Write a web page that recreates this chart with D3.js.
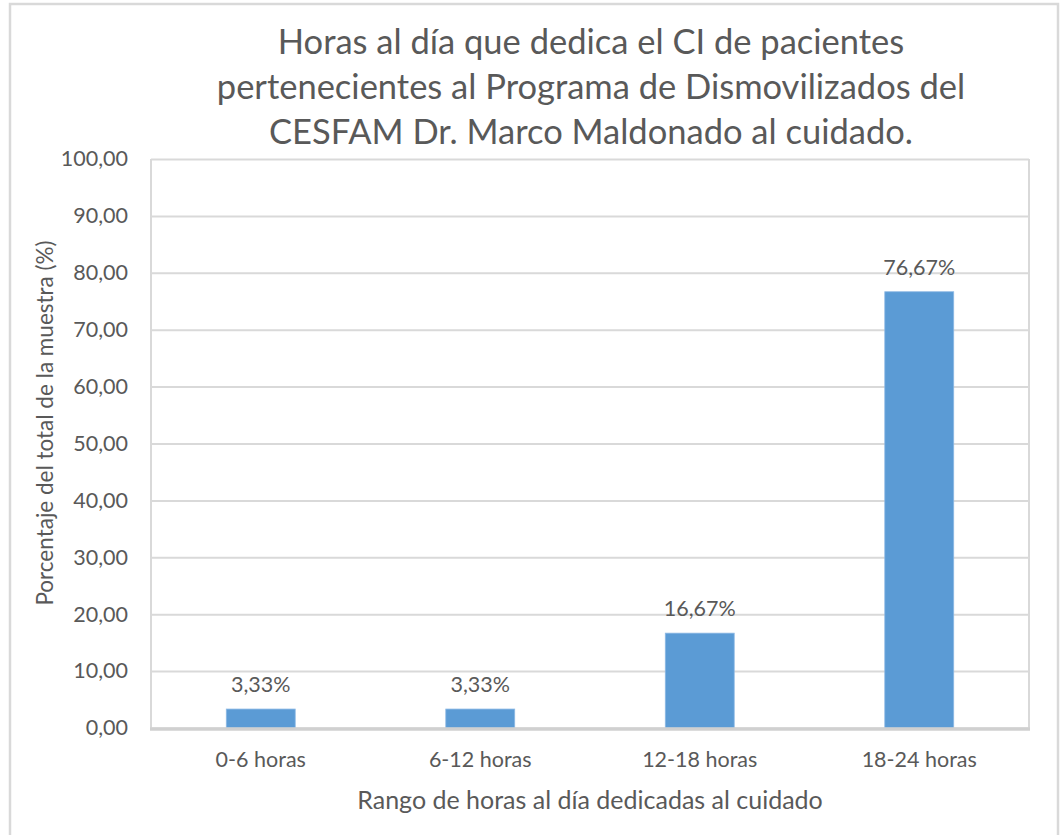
<!DOCTYPE html>
<html>
<head>
<meta charset="utf-8">
<script src="https://cdn.jsdelivr.net/npm/d3@7"></script>
<style>
  html, body { margin: 0; padding: 0; background: #ffffff; }
  svg { display: block; font-family: Lato, "Liberation Sans", sans-serif; }
</style>
</head>
<body>
<svg id="chart" width="1061" height="835"></svg>
<script>
// ---- data ----
const categories = ["0-6 horas", "6-12 horas", "12-18 horas", "18-24 horas"];
const values = [3.33, 3.33, 16.67, 76.67];
const yTicks = [0, 10, 20, 30, 40, 50, 60, 70, 80, 90, 100];
const titleLines = [
  "Horas al día que dedica el CI de pacientes",
  "pertenecientes al Programa de Dismovilizados del",
  "CESFAM Dr. Marco Maldonado al cuidado."
];
const xTitle = "Rango de horas al día dedicadas al cuidado";
const yTitle = "Porcentaje del total de la muestra (%)";

// ---- layout ----
const W = 1061, H = 835;
const plot = { left: 151, right: 1029, top: 159, bottom: 728 };
const textColor = "#595959";
const gridColor = "#d9d9d9";
const barColor = "#5b9bd5";

const locale = d3.formatLocale({ decimal: ",", thousands: ".", grouping: [3], currency: ["$", ""] });
const fmt2 = locale.format(".2f");

const svg = d3.select("#chart");

// outer border
svg.append("rect")
  .attr("x", 10).attr("y", 4)
  .attr("width", 1048).attr("height", 840)
  .attr("fill", "#ffffff")
  .attr("stroke", gridColor).attr("stroke-width", 2.5);

const x = d3.scaleBand()
  .domain(categories)
  .range([plot.left, plot.right])
  .paddingInner(0.686)
  .paddingOuter(0.343);

const y = d3.scaleLinear()
  .domain([0, 100])
  .range([plot.bottom, plot.top]);

// gridlines
const grid = svg.append("g")
  .attr("transform", `translate(${plot.left},0)`)
  .call(d3.axisLeft(y).tickValues(yTicks).tickSize(-(plot.right - plot.left)).tickFormat(""));
grid.select(".domain").remove();
grid.selectAll(".tick line").attr("stroke", gridColor).attr("stroke-width", 2);

// plot-area side borders
svg.append("line")
  .attr("x1", plot.left).attr("x2", plot.left)
  .attr("y1", plot.top).attr("y2", plot.bottom)
  .attr("stroke", gridColor).attr("stroke-width", 2);
svg.append("line")
  .attr("x1", plot.right).attr("x2", plot.right)
  .attr("y1", plot.top).attr("y2", plot.bottom)
  .attr("stroke", gridColor).attr("stroke-width", 2);

// y tick labels
const yAxis = svg.append("g")
  .attr("transform", `translate(${plot.left},0)`)
  .call(d3.axisLeft(y).tickValues(yTicks).tickSize(0).tickPadding(23).tickFormat(d => fmt2(d)));
yAxis.select(".domain").remove();
yAxis.selectAll("text")
  .attr("fill", textColor)
  .style("font-size", "21.5px")
  .style("font-family", "Lato, sans-serif");

// bars
svg.append("g")
  .selectAll("rect")
  .data(values)
  .join("rect")
  .attr("x", (d, i) => x(categories[i]))
  .attr("width", x.bandwidth())
  .attr("y", d => y(d))
  .attr("height", d => y(0) - y(d))
  .attr("fill", barColor)
  .attr("stroke", "#8cb8e4").attr("stroke-width", 0.8);

// x axis line
svg.append("line")
  .attr("x1", plot.left - 1).attr("x2", plot.right + 1)
  .attr("y1", y(0) + 1).attr("y2", y(0) + 1)
  .attr("stroke", "#d0d0d0").attr("stroke-width", 3.5);

// x tick labels
const xAxis = svg.append("g")
  .attr("transform", `translate(0,${plot.bottom})`)
  .call(d3.axisBottom(x).tickSize(0).tickPadding(24));
xAxis.select(".domain").remove();
xAxis.selectAll("text")
  .attr("fill", textColor)
  .style("font-size", "21.5px")
  .style("font-family", "Lato, sans-serif");

// data labels
svg.append("g")
  .selectAll("text")
  .data(values)
  .join("text")
  .attr("x", (d, i) => x(categories[i]) + x.bandwidth() / 2)
  .attr("y", d => y(d) - 17)
  .attr("text-anchor", "middle")
  .attr("fill", textColor)
  .style("font-size", "21.5px")
  .text(d => fmt2(d) + "%");

// title
svg.append("g")
  .selectAll("text")
  .data(titleLines)
  .join("text")
  .attr("x", (plot.left + plot.right) / 2 + 1)
  .attr("y", (d, i) => 54 + i * 45)
  .attr("text-anchor", "middle")
  .attr("fill", textColor)
  .style("font-size", "34.5px")
  .text(d => d);

// x title
svg.append("text")
  .attr("x", (plot.left + plot.right) / 2)
  .attr("y", 809)
  .attr("text-anchor", "middle")
  .attr("fill", textColor)
  .style("font-size", "25px")
  .text(xTitle);

// y title
svg.append("text")
  .attr("transform", `translate(53,423) rotate(-90)`)
  .attr("text-anchor", "middle")
  .attr("fill", textColor)
  .style("font-size", "22.5px")
  .text(yTitle);
</script>
</body>
</html>
